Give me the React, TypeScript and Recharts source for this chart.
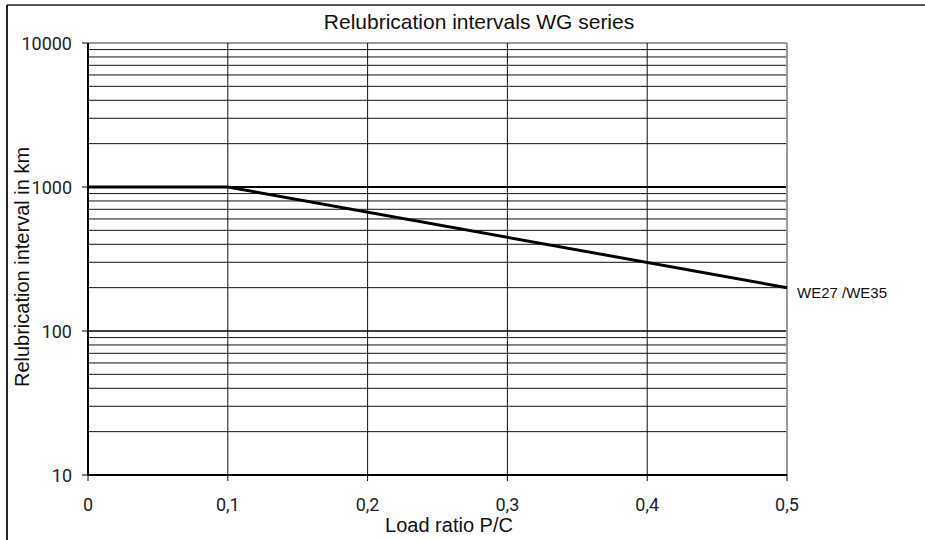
import React from "react";
import { LineChart, Line, XAxis, YAxis, ReferenceLine, ReferenceDot } from "recharts";

const loadRatio = [0, 0.1, 0.5];
const interval = [1000, 1000, 200];
const seriesName = "WE27 /WE35";

const xTicks = [0, 0.1, 0.2, 0.3, 0.4, 0.5];
const yTicks = [10, 100, 1000, 10000];
const decades = [10, 100, 1000];
const minorSteps = [2, 3, 4, 5, 6, 7, 8, 9];

const data = loadRatio.map((x, i) => ({ x, y: interval[i] }));
const minorLines = decades.flatMap((d) => minorSteps.map((m) => d * m));

const tickFont = "Roboto";
const textFont = "Liberation Sans";

const fmtX = (v: number) => (v === 0 ? "0" : String(v).replace(".", ","));

const XTick = (p: any) => (
  <text
    x={p.x}
    y={p.y + 30}
    textAnchor="middle"
    style={{ fontFamily: tickFont, fontSize: 18 }}
    fill="#222"
  >
    {fmtX(p.payload.value)}
  </text>
);

const YTick = (p: any) => (
  <text
    x={p.x - 4}
    y={p.y + 6.5}
    textAnchor="end"
    style={{ fontFamily: tickFont, fontSize: 18 }}
    fill="#222"
  >
    {p.payload.value}
  </text>
);

export default function App() {
  const last = data[data.length - 1];
  return (
    <div style={{ position: "absolute", left: 0, top: 0, width: 925, height: 540, background: "#fff" }}>
      <LineChart
        width={925}
        height={540}
        data={data}
        margin={{ top: 43, right: 138, bottom: 35, left: 28 }}
      >
        {minorLines.map((v) => (
          <ReferenceLine key={v} y={v} stroke="#111" strokeWidth={1} ifOverflow="hidden" />
        ))}
        <ReferenceLine y={100} stroke="#000" strokeWidth={1.6} />
        <ReferenceLine y={1000} stroke="#000" strokeWidth={2} />
        <ReferenceLine y={10000} stroke="#999" strokeWidth={2} />
        {xTicks.slice(1, -1).map((v) => (
          <ReferenceLine key={v} x={v} stroke="#111" strokeWidth={1} />
        ))}
        <ReferenceLine x={0.5} stroke="#999" strokeWidth={2} />
        <XAxis
          dataKey="x"
          type="number"
          domain={[0, 0.5]}
          ticks={xTicks}
          height={30}
          tickSize={6}
          tickMargin={0}
          axisLine={{ stroke: "#000", strokeWidth: 2 }}
          tickLine={{ stroke: "#000" }}
          tick={<XTick />}
        />
        <YAxis
          type="number"
          scale="log"
          domain={[10, 10000]}
          ticks={yTicks}
          allowDataOverflow
          width={60}
          tickSize={6}
          tickMargin={6}
          axisLine={{ stroke: "#000", strokeWidth: 2 }}
          tickLine={{ stroke: "#000" }}
          tick={<YTick />}
        />
        <Line
          dataKey="y"
          type="linear"
          stroke="#000"
          strokeWidth={3}
          dot={false}
          isAnimationActive={false}
        />
        <ReferenceDot
          x={last.x}
          y={last.y}
          r={1}
          fillOpacity={0}
          strokeOpacity={0}
          label={{
            content: (p: any) => {
              const vb = p.viewBox || {};
              return (
                <text
                  x={vb.x + vb.width + 9}
                  y={vb.y + vb.height / 2 + 10}
                  style={{ fontFamily: textFont, fontSize: 15 }}
                  fill="#111"
                >
                  {seriesName}
                </text>
              );
            },
          }}
        />
      </LineChart>
      <svg
        width={925}
        height={540}
        style={{ position: "absolute", left: 0, top: 0, pointerEvents: "none" }}
      >
        <line x1={7} y1={5} x2={925} y2={5} stroke="#222" strokeWidth={1.5} />
        <line x1={7} y1={5} x2={7} y2={540} stroke="#222" strokeWidth={2} />
        <text x={479} y={29} textAnchor="middle" style={{ fontFamily: textFont, fontSize: 21 }} fill="#111">
          Relubrication intervals WG series
        </text>
        <text x={449} y={532} textAnchor="middle" style={{ fontFamily: textFont, fontSize: 20 }} fill="#111">
          Load ratio P/C
        </text>
        <text
          x={29}
          y={267}
          textAnchor="middle"
          style={{ fontFamily: textFont, fontSize: 20 }}
          fill="#111"
          transform="rotate(-90 29 267)"
        >
          Relubrication interval in km
        </text>
      </svg>
    </div>
  );
}
